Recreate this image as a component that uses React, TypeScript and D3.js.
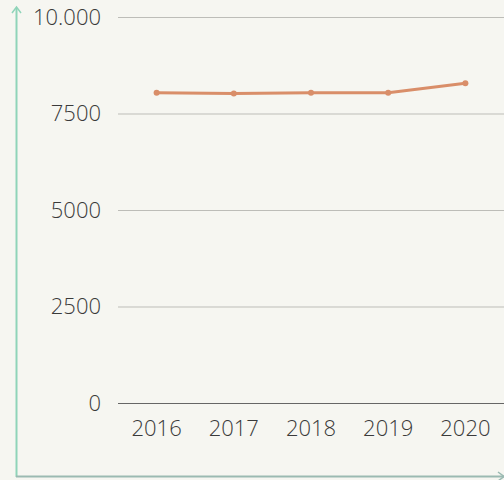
import React, { useEffect, useRef } from "react";
import * as d3 from "d3";

const years = ["2016", "2017", "2018", "2019", "2020"];
const values = [8035, 8020, 8035, 8040, 8285];
const yTicks = [0, 2500, 5000, 7500, 10000];

const W = 504;
const H = 480;

const App = () => {
  const ref = useRef<SVGSVGElement>(null);

  useEffect(() => {
    const svg = d3.select(ref.current);
    svg.selectAll("*").remove();

    svg.append("rect").attr("width", W).attr("height", H).attr("fill", "#f6f6f1");

    const x = d3.scaleBand().domain(years).range([118, 504]);
    const y = d3.scaleLinear().domain([0, 10000]).range([403, 17]);

    // grid lines
    svg
      .selectAll("line.grid")
      .data(yTicks)
      .enter()
      .append("line")
      .attr("class", "grid")
      .attr("x1", 118)
      .attr("x2", W)
      .attr("y1", (d) => y(d) + 0.5)
      .attr("y2", (d) => y(d) + 0.5)
      .attr("stroke", (d) => (d === 0 ? "#666" : "#bdbdb8"))
      .attr("stroke-width", 1);

    // y labels
    svg
      .selectAll("text.ylab")
      .data(yTicks)
      .enter()
      .append("text")
      .attr("class", "ylab")
      .attr("x", 101)
      .attr("y", (d) => y(d))
      .attr("dy", "0.36em")
      .attr("text-anchor", "end")
      .attr("font-family", "Open Sans")
      .attr("font-weight", 300)
      .attr("font-size", 22)
      .attr("fill", "#3a3a3a")
      .text((d) => (d === 10000 ? "10.000" : String(d)));

    // x labels
    svg
      .selectAll("text.xlab")
      .data(years)
      .enter()
      .append("text")
      .attr("class", "xlab")
      .attr("x", (d) => (x(d) as number) + x.bandwidth() / 2)
      .attr("y", 428)
      .attr("dy", "0.36em")
      .attr("text-anchor", "middle")
      .attr("font-family", "Open Sans")
      .attr("font-weight", 300)
      .attr("font-size", 22)
      .attr("fill", "#3a3a3a")
      .text((d) => d);

    // axis arrows
    svg
      .append("line")
      .attr("x1", 16.5)
      .attr("x2", 16.5)
      .attr("y1", 477)
      .attr("y2", 8)
      .attr("stroke", "#8fd4b9")
      .attr("stroke-width", 2);
    svg
      .append("path")
      .attr("d", "M12,13 L16.5,7 L21,13")
      .attr("fill", "none")
      .attr("stroke", "#8fd4b9")
      .attr("stroke-width", 1.5);
    svg
      .append("line")
      .attr("x1", 16)
      .attr("x2", 504)
      .attr("y1", 476.5)
      .attr("y2", 476.5)
      .attr("stroke", "#9bbab2")
      .attr("stroke-width", 2);
    svg
      .append("path")
      .attr("d", "M498,472 L504,476.5 L498,481")
      .attr("fill", "none")
      .attr("stroke", "#9bbab2")
      .attr("stroke-width", 1.5);

    const cx = (i: number) => (x(years[i]) as number) + x.bandwidth() / 2;

    const line = d3
      .line<number>()
      .x((d, i) => cx(i))
      .y((d) => y(d));

    svg
      .append("path")
      .datum(values)
      .attr("d", line)
      .attr("fill", "none")
      .attr("stroke", "#d98e69")
      .attr("stroke-width", 3);

    svg
      .selectAll("circle")
      .data(values)
      .enter()
      .append("circle")
      .attr("cx", (d, i) => cx(i))
      .attr("cy", (d) => y(d))
      .attr("r", 3)
      .attr("fill", "#d98e69");
  }, []);

  return (
    <svg
      ref={ref}
      width={W}
      height={H}
      style={{ position: "absolute", left: 0, top: 0, display: "block" }}
    ></svg>
  );
};

export default App;
